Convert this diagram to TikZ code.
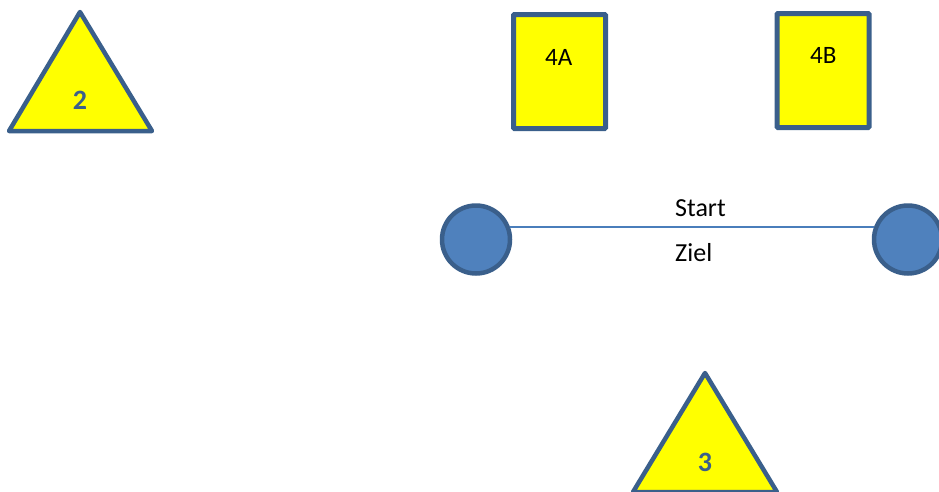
\documentclass[tikz,border=0pt]{standalone}
\usepackage{fontspec}
\setmainfont{Carlito}
\definecolor{outl}{HTML}{3A5F8B}
\definecolor{yel}{HTML}{FFFF00}
\definecolor{cfill}{HTML}{4F81BD}
\definecolor{lblue}{HTML}{4A7EBB}
\begin{document}
\begin{tikzpicture}[x=1pt,y=-1pt,
  tri/.style={draw=outl,fill=yel,line width=4.5pt,line join=round},
  boxshape/.style={draw=outl,fill=yel,line width=5pt,rounded corners=1pt,minimum width=92pt,minimum height=114pt,inner sep=0pt},
  circ/.style={circle,draw=outl,fill=cfill,line width=4.5pt,minimum size=68pt,inner sep=0pt},
  conn/.style={draw=lblue,line width=1.8pt},
  tlabel/.style={text=outl,font=\bfseries\fontsize{28}{33}\selectfont,inner sep=0pt,anchor=base},
  blabel/.style={text=black,font=\fontsize{25}{30}\selectfont,inner sep=0pt,anchor=base west},
  llabel/.style={text=black,font=\fontsize{26}{31}\selectfont,inner sep=0pt,anchor=base west}]
\useasboundingbox (0,0) rectangle (939,491);
% triangle 2
\draw[tri] (80,12) -- (152,131) -- (9,131) -- cycle;
\node[tlabel] (t2) at (80,109) {2};
% triangle 3
\draw[tri] (705,373) -- (777,492) -- (633,492) -- cycle;
\node[tlabel] (t3) at (705,471) {3};
% boxes
\node[boxshape] (b4a) at (559.5,71.5) {};
\node[blabel] (l4a) at (545,65) {4A};
\node[boxshape] (b4b) at (823,70.5) {};
\node[blabel] (l4b) at (810,63.5) {4B};
% circles
\node[circ] (cl) at (476,239.5) {};
\node[circ] (cr) at (908,239.5) {};
\draw[conn] (cl.20) -- (cr.160);
\node[llabel] (start) at (675,216) {Start};
\node[llabel] (ziel) at (675,261) {Ziel};
\end{tikzpicture}
\end{document}
